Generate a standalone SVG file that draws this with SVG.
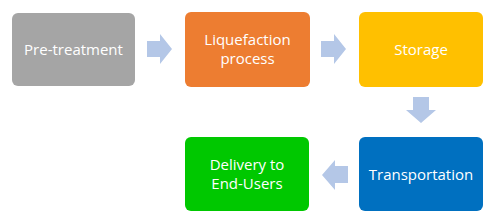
<svg xmlns="http://www.w3.org/2000/svg" width="500" height="221" viewBox="0 0 500 221">
<style>
.box{stroke:none}
.t{font-family:"Open Sans","Liberation Sans",sans-serif;font-size:15px;fill:#fff;text-anchor:middle}
.arr{fill:#b4c7e7}
</style>
<rect width="500" height="221" fill="#fff"/>
<g id="connectors">
<path class="arr" d="M147,41 H160 V34 L172,49 L160,64 V57 H147 Z"/>
<path class="arr" d="M321,41 H334 V34 L346,49 L334,64 V57 H321 Z"/>
<path class="arr" d="M413,97 V110 H406 L421,123 L436,110 H429 V97 Z"/>
<path class="arr" d="M348,166 H335 V160 L322,175 L335,190 V183 H348 Z"/>
</g>
<g id="pretreatment">
<rect class="box" x="12" y="13" width="123" height="73" rx="6" fill="#a5a5a5"/>
<text class="t" x="73.5" y="55">Pre-treatment</text>
</g>
<g id="liquefaction">
<rect class="box" x="185" y="12" width="125" height="75" rx="6" fill="#ed7d31"/>
<text class="t" x="247.5" y="45">Liquefaction</text>
<text class="t" x="247.5" y="64">process</text>
</g>
<g id="storage">
<rect class="box" x="359" y="12" width="124" height="75" rx="6" fill="#ffc000"/>
<text class="t" x="421" y="55">Storage</text>
</g>
<g id="transportation">
<rect class="box" x="359" y="137" width="124" height="74" rx="6" fill="#0070c0"/>
<text class="t" x="421" y="180">Transportation</text>
</g>
<g id="delivery">
<rect class="box" x="185" y="137" width="124" height="74" rx="6" fill="#00c800"/>
<text class="t" x="247" y="170">Delivery to</text>
<text class="t" x="247" y="189">End-Users</text>
</g>
</svg>
